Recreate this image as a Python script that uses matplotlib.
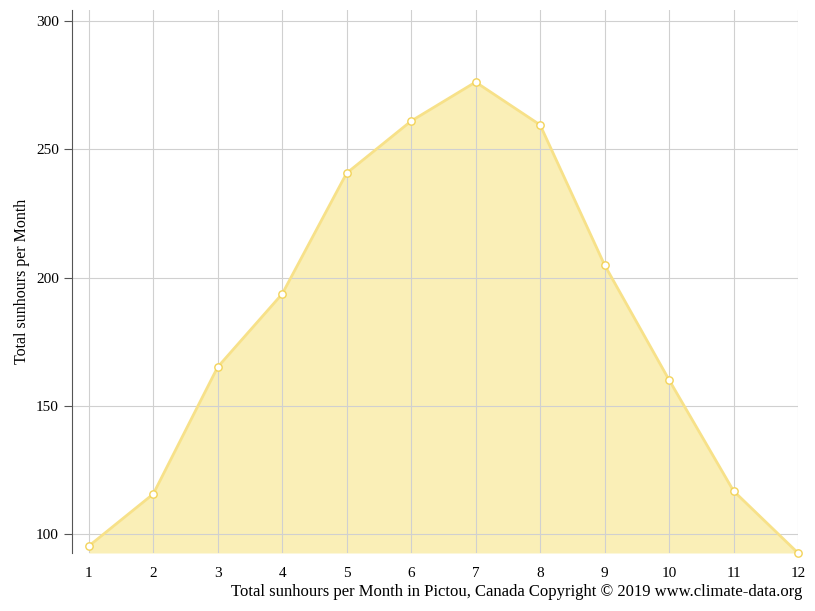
import matplotlib
matplotlib.use("Agg")
import matplotlib.pyplot as plt

months = [1, 2, 3, 4, 5, 6, 7, 8, 9, 10, 11, 12]
sunhours = [95.3, 115.6, 165.1, 193.6, 240.7, 261.0, 276.2, 259.5, 204.9, 160.1, 116.8, 92.6]

plt.rcParams['font.family'] = ['Liberation Serif', 'DejaVu Serif']

fig = plt.figure(figsize=(8.15, 6.11), dpi=100)
ax = fig.add_axes([72/815, (611-553)/611, (798-72)/815, (553-10)/611])

ymin = 92.6
ax.grid(True, color='#d0d0d0', lw=0.8, zorder=0)
ax.fill_between(months, sunhours, ymin, color='#f5dc60', alpha=0.45, lw=0, zorder=1)
ax.plot(months, sunhours, color='#f7e189', lw=2, zorder=2, clip_on=False)
ax.scatter(months, sunhours, s=28, facecolor='white', edgecolor='#f3d35a', lw=1, zorder=3, clip_on=False)

ax.set_xlim(0.74, 12)
ax.set_ylim(ymin, 304.3)
ax.set_xticks(months)
ax.set_yticks([100, 150, 200, 250, 300])
for s in ['top', 'right', 'bottom']:
    ax.spines[s].set_visible(False)
ax.spines['left'].set_color('#555555')
ax.tick_params(axis='x', length=0, pad=10, labelsize=11)
ax.tick_params(axis='y', length=6, color='#555555', labelsize=11)

ax.set_ylabel('Total sunhours per Month', fontsize=11.5)
fig.text(802/815, 1 - 592/611, 'Total sunhours per Month in Pictou, Canada Copyright © 2019 www.climate-data.org',
         ha='right', va='center', fontsize=12)

fig.savefig('out.png', dpi=100)
